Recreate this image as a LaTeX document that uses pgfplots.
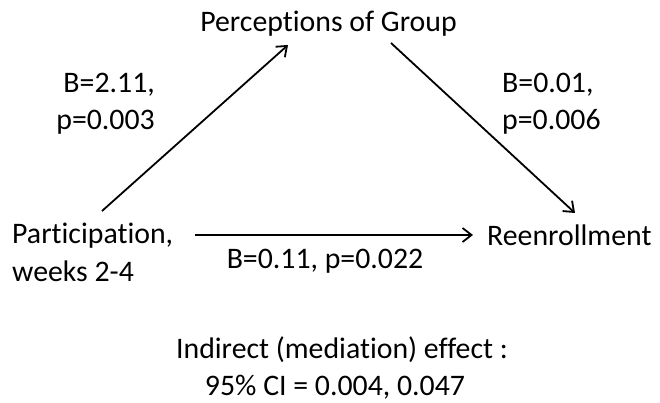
\documentclass[border=0pt]{standalone}
\usepackage{fontspec}
\setmainfont{Carlito}[Ligatures={NoCommon}]
\usepackage{pgfplots}
\pgfplotsset{compat=1.18}
\usetikzlibrary{arrows.meta}
\tikzset{lab/.style={inner sep=0pt, font=\fontsize{29.8bp}{37bp}\selectfont}}
\begin{document}
\begin{tikzpicture}
\begin{axis}[
  width=660bp, height=402bp, scale only axis,
  xmin=0, xmax=660, ymin=0, ymax=402,
  hide axis, clip=false,
]
% invisible frame to keep the full canvas
\addplot[draw=none, forget plot] coordinates {(0,0) (660,402)};
\path (axis cs:0,0) rectangle (axis cs:660,402);
% arrows (pixel coordinates, y measured upward)
\addplot[black, line width=1.8bp, -{Straight Barb[length=9bp,width=14bp]}] coordinates {(102,191) (288,357)};
\addplot[black, line width=1.8bp, -{Straight Barb[length=9bp,width=14bp]}] coordinates {(391,359) (575,189)};
\addplot[black, line width=1.8bp, -{Straight Barb[length=9bp,width=14bp]}] coordinates {(195,167) (473,167)};
% labels
\node[lab, anchor=base] at (axis cs:328.5,370) {Perceptions of Group};
\node[lab, anchor=base east] at (axis cs:155,309) {B=2.11,};
\node[lab, anchor=base east] at (axis cs:155,272) {p=0.003};
\node[lab, anchor=base west] at (axis cs:502,309) {B=0.01,};
\node[lab, anchor=base west] at (axis cs:502,272) {p=0.006};
\node[lab, anchor=base west] at (axis cs:12,159) {Participation,};
\node[lab, anchor=base west] at (axis cs:12,121) {weeks 2-4};
\node[lab, anchor=base west] at (axis cs:487,157) {Reenrollment};
\node[lab, anchor=base] at (axis cs:325,134) {B=0.11, p=0.022};
\node[lab, anchor=base] at (axis cs:342,44) {Indirect (mediation) effect :};
\node[lab, anchor=base] at (axis cs:335,7) {95\% CI = 0.004, 0.047};
\end{axis}
\end{tikzpicture}
\end{document}
